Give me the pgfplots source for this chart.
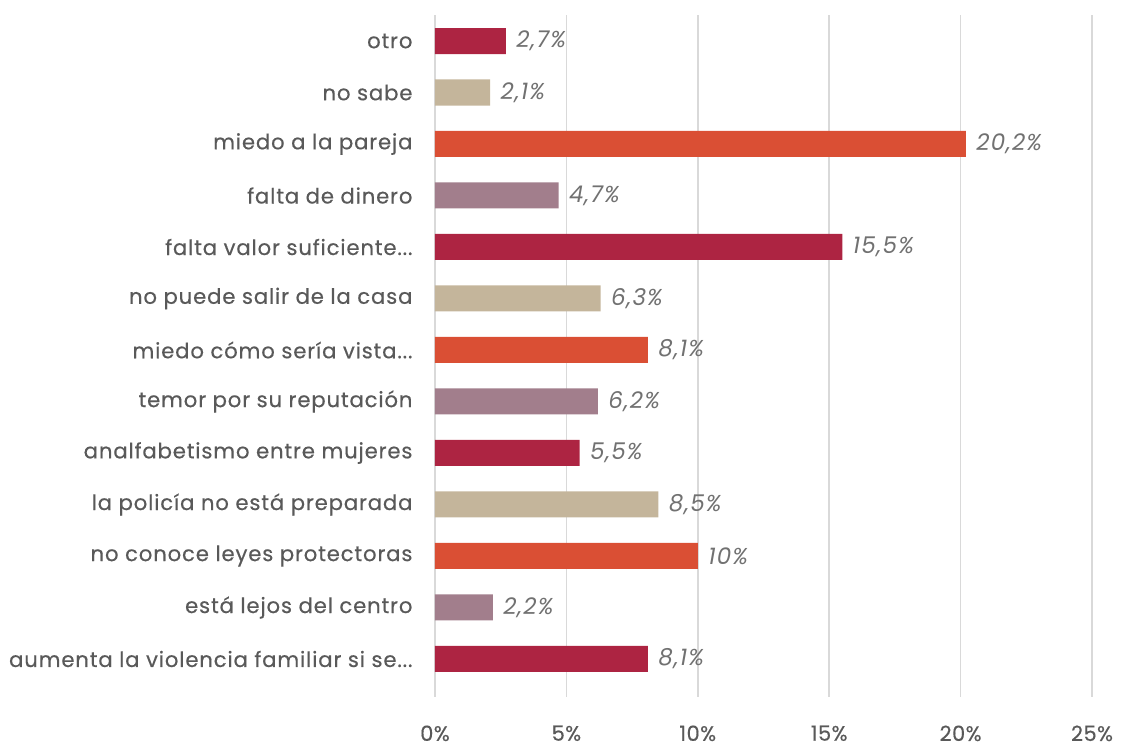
\documentclass[border=0pt]{standalone}
\usepackage{pgfplots}
\pgfplotsset{compat=1.18}
\usepackage{pgfplotstable}
\usepackage{fontspec}
\setmainfont{Poppins}
\newfontfamily\labfont{Poppins}[LetterSpace=4, FakeBold=0.4]
\newfontfamily\tickfont{Poppins}[LetterSpace=2, FakeBold=0.4]
\newfontfamily\valfont{Poppins}[LetterSpace=5]
\newcommand\el{...}
\definecolor{crim}{HTML}{AD2442}
\definecolor{beige}{HTML}{C4B59B}
\definecolor{orng}{HTML}{DA4F34}
\definecolor{mauve}{HTML}{A27E8C}
\definecolor{txt}{HTML}{595959}
\definecolor{vtxt}{HTML}{717171}
\definecolor{gridc}{HTML}{D9D9D9}
\pgfplotstableread{
y x
0 8.1
4 5.5
8 15.5
12 2.7
}\crimdata
\pgfplotstableread{
y x
3 8.5
7 6.3
11 2.1
}\beigedata
\pgfplotstableread{
y x
2 10.0
6 8.1
10 20.2
}\orngdata
\pgfplotstableread{
y x
1 2.2
5 6.2
9 4.7
}\mauvedata
\begin{document}
\begin{tikzpicture}
\begin{axis}[
  scale only axis,
  width=657pt, height=682pt,
  xmin=0, xmax=25,
  ymin=-0.738, ymax=12.505,
  xbar, bar width=26pt, bar shift=0pt,
  axis line style={draw=none},
  major tick length=0pt,
  /pgf/number format/assume math mode=true,
  xtick={0,5,10,15,20,25},
  xticklabels={0\%,5\%,10\%,15\%,20\%,25\%},
  xmajorgrids, grid style={draw=gridc, line width=1.5pt},
  ytick={0,1,2,3,4,5,6,7,8,9,10,11,12},
  yticklabels={{aumenta la violencia familiar si se\el},{está lejos del centro},{no conoce leyes protectoras},{la policía no está preparada},{analfabetismo entre mujeres},{temor por su reputación},{miedo cómo sería vista\el},{no puede salir de la casa},{falta valor suficiente\el},{falta de dinero},{miedo a la pareja},{no sabe},{otro}},
  ymajorgrids=false,
  yticklabel style={font=\labfont\fontsize{21.2}{24}\selectfont, text=txt, xshift=-19pt},
  xticklabel style={font=\tickfont\fontsize{21}{24}\selectfont, text=txt, yshift=-25pt},
  nodes near coords={\pgfmathprintnumber[use comma,fixed,precision=1,assume math mode=true]{\pgfplotspointmeta}\%},
  nodes near coords style={font=\valfont\fontsize{23}{26}\selectfont\itshape, text=vtxt, anchor=west, xshift=7pt},
  point meta=x,
  clip=false,
]
\addplot[fill=crim, draw=none] table[x=x,y=y] {\crimdata};
\addplot[fill=beige, draw=none] table[x=x,y=y] {\beigedata};
\addplot[fill=orng, draw=none] table[x=x,y=y] {\orngdata};
\addplot[fill=mauve, draw=none] table[x=x,y=y] {\mauvedata};
\end{axis}
\useasboundingbox (-435pt,-50pt) rectangle (693pt,697pt);
\end{tikzpicture}
\end{document}
